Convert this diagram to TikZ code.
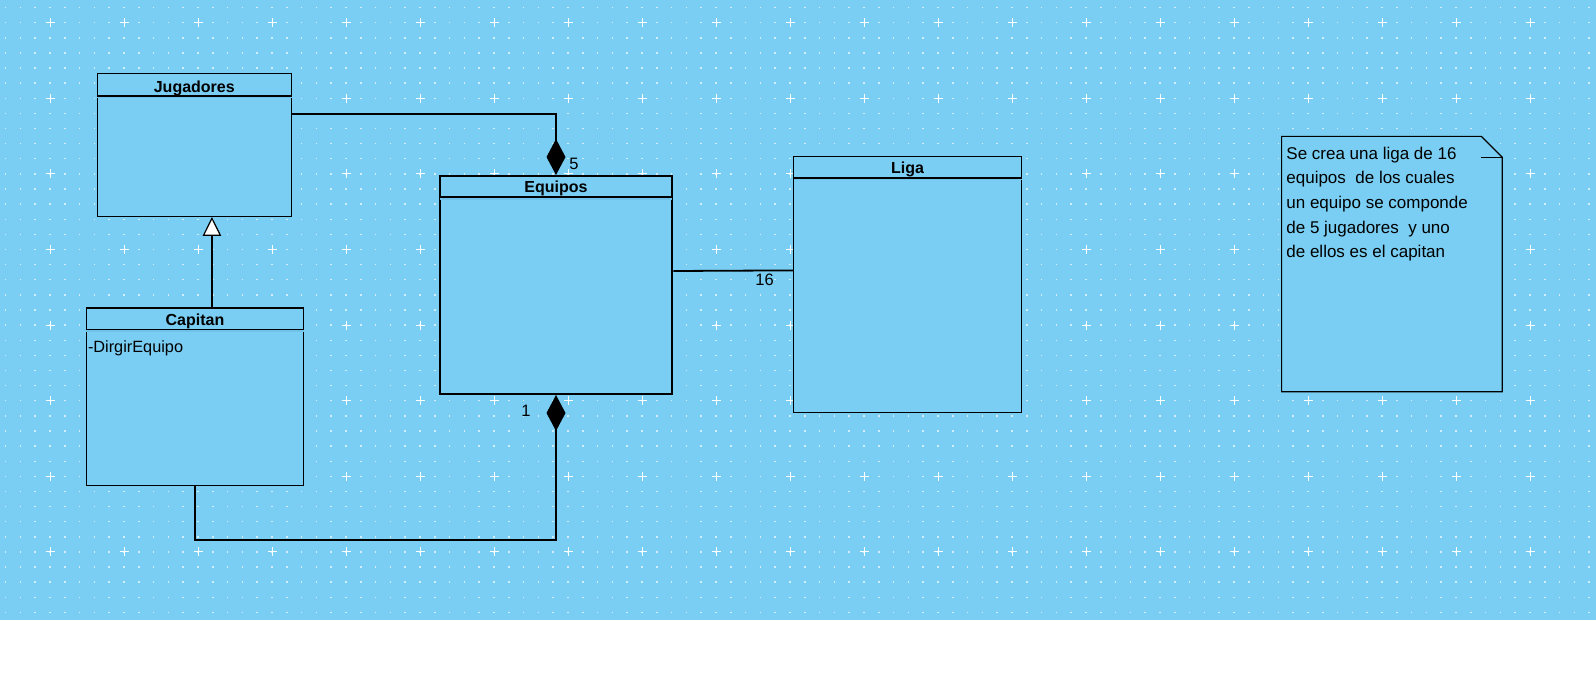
\documentclass[tikz,border=0pt]{standalone}
\usepackage{fontspec}
\setmainfont{Liberation Sans}
\usetikzlibrary{arrows.meta}
\definecolor{fondo}{RGB}{122,206,243}
\definecolor{punto}{RGB}{210,238,251}
\definecolor{sombra}{RGB}{111,194,234}

\begin{document}
\begin{tikzpicture}[x=1pt,y=-1pt,thick]
    \tikzstyle{clase}=[rectangle, draw, fill=fondo, line width=1.1pt, inner sep=0pt, anchor=north west]
    \tikzstyle{titulo}=[anchor=base, inner sep=0pt, font=\fontsize{16}{19}\selectfont\bfseries]
    \tikzstyle{etiqueta}=[anchor=base west, inner sep=0pt, font=\fontsize{16.5}{20}\selectfont]
    \tikzstyle{comp}=[line width=1.8pt, {Diamond[length=36pt,width=19pt]}-]
    \tikzstyle{gen}=[line width=1.8pt, -{Triangle[length=19pt,width=18.4pt,fill=white,line width=1.2pt]}]
    % fondo con rejilla
    \useasboundingbox (0,0) rectangle (1596,695);
    \fill[fondo] (0,0) rectangle (1596,620);
    \foreach \k in {0,...,40}
      \draw[punto, line width=1.4pt, dash pattern=on 1.5pt off 13.3pt] (4.85,7.6+15.12*\k) -- (1596,7.6+15.12*\k);
    \foreach \i in {0,...,21}
      \foreach \j in {0,...,7}
        \draw[white, line width=1pt] (45.5+74*\i,22.7+75.6*\j) -- ++(9,0) (50+74*\i,18.2+75.6*\j) -- ++(0,9);
    % clases
    \node[clase, minimum width=194.5pt, minimum height=142.5pt] (jugadores) at (96.5,73.3) {};
    \draw[sombra, line width=2pt] ([xshift=0.6pt,yshift=-24.2pt]jugadores.north west) -- ([xshift=-0.6pt,yshift=-24.2pt]jugadores.north east);
    \draw[line width=1.1pt] ([yshift=-22.7pt]jugadores.north west) -- ([yshift=-22.7pt]jugadores.north east);
    \node[titulo] (jugadores-t) at ([yshift=-19.4pt]jugadores.north) {Jugadores};

    \node[clase, line width=2pt, minimum width=232.6pt, minimum height=218pt] (equipos) at (438.7,175) {};
    \draw[sombra, line width=2pt] ([xshift=1pt,yshift=-24.4pt]equipos.north west) -- ([xshift=-1pt,yshift=-24.4pt]equipos.north east);
    \draw[line width=2pt] ([yshift=-22.5pt]equipos.north west) -- ([yshift=-22.5pt]equipos.north east);
    \node[titulo] (equipos-t) at ([yshift=-17.7pt]equipos.north) {Equipos};

    \node[clase, minimum width=228pt, minimum height=256.3pt] (liga) at (793,155.7) {};
    \draw[sombra, line width=2pt] ([xshift=0.6pt,yshift=-23.8pt]liga.north west) -- ([xshift=-0.6pt,yshift=-23.8pt]liga.north east);
    \draw[line width=1.1pt] ([yshift=-22.3pt]liga.north west) -- ([yshift=-22.3pt]liga.north east);
    \node[titulo] (liga-t) at ([yshift=-18.3pt]liga.north) {Liga};

    \node[clase, minimum width=217.8pt, minimum height=177.1pt] (capitan) at (85.5,307.4) {};
    \draw[sombra, line width=2pt] ([xshift=0.6pt,yshift=-23.9pt]capitan.north west) -- ([xshift=-0.6pt,yshift=-23.9pt]capitan.north east);
    \draw[line width=1.1pt] ([yshift=-22.4pt]capitan.north west) -- ([yshift=-22.4pt]capitan.north east);
    \node[titulo] (capitan-t) at ([yshift=-17.6pt]capitan.north) {Capitan};
    \node[anchor=base west, inner sep=0pt, font=\fontsize{16.3}{19}\selectfont] (capitan-a) at (87.6,352.5) {-DirgirEquipo};

    % nota
    \node[minimum width=219.9pt, minimum height=254.6pt, inner sep=0pt, anchor=north west] (nota) at (1281.6,136.4) {};
    \draw[fill=fondo, line width=1.2pt] (nota.north west) -- ([xshift=-21pt]nota.north east) -- ([yshift=-21pt]nota.north east) -- (nota.south east) -- (nota.south west) -- cycle;
    \draw[line width=1.4pt] ([xshift=-21pt,yshift=-21pt]nota.north east) -- ([yshift=-21pt]nota.north east);
    \node[anchor=north west, inner sep=0pt, align=left, font=\fontsize{17}{24.7}\selectfont] (nota-t) at (1286,146.3) {Se crea una liga de 16\\equipos \ de los cuales\\un equipo se componde\\de 5 jugadores \ y uno\\de ellos es el capitan};

    % relaciones
    \draw[comp] (equipos.north) |- ([yshift=-41pt]jugadores.north east);
    \draw[comp] (equipos.south) -- ++(0,144.7) -| (capitan.south);
    \draw[gen] ([xshift=17pt]capitan.north) -- ([xshift=17pt]capitan.north |- jugadores.south);
    \draw[line width=1.8pt] ([yshift=14pt]equipos.east) -- ([yshift=14pt]liga.west);
    \node[etiqueta] (cinco) at (569,169.3) {5};
    \node[etiqueta] (uno) at (521,416.7) {1};
    \node[etiqueta] (dieciseis) at (755,285) {16};
\end{tikzpicture}
\end{document}
